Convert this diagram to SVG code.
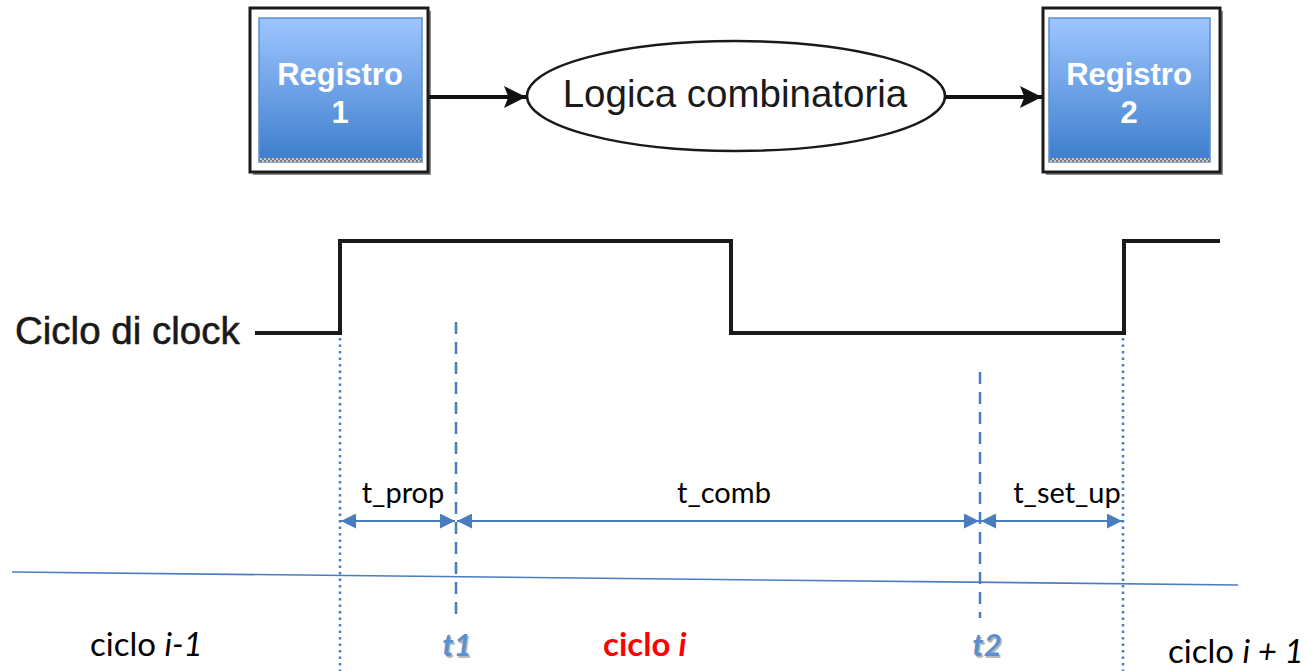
<svg xmlns="http://www.w3.org/2000/svg" width="1311" height="671" viewBox="0 0 1311 671">
  <style>
    .frame { fill: #ffffff; stroke: #1c1c1c; stroke-width: 3; }
    .shadow { fill: #8a8a8a; }
    .reg { fill: url(#regFill); stroke: #5b8fd0; stroke-width: 1.5; }
    .regText { font-family: "Liberation Sans", Arial, sans-serif; font-weight: bold; font-size: 31px; fill: #ffffff; text-anchor: middle; }
    .wire { stroke: #111111; stroke-width: 4; fill: none; }
    .clock { stroke: #1a1a1a; stroke-width: 4; fill: none; stroke-linejoin: miter; }
    .dotted { stroke: #4a7cc0; stroke-width: 2.5; stroke-dasharray: 2.5 4; fill: none; }
    .dashed { stroke: #4a7cc0; stroke-width: 2.5; stroke-dasharray: 12 8; fill: none; }
    .dim { stroke: #4a7cc0; stroke-width: 2; fill: none; }
    .lbl { font-family: Lato, "Open Sans", sans-serif; font-size: 29px; fill: #000000; text-anchor: middle; }
    .cyc { font-family: Lato, "Open Sans", sans-serif; font-size: 33px; fill: #000000; }
    .tmark { font-family: Lato, "Open Sans", sans-serif; font-size: 31px; font-weight: bold; font-style: italic; text-anchor: middle; }
  </style>
  <defs>
    <linearGradient id="regFill" x1="0" y1="0" x2="0" y2="1">
      <stop offset="0" stop-color="#9ec6ff"/>
      <stop offset="1" stop-color="#3d7dcc"/>
    </linearGradient>
    <pattern id="grain" width="4" height="4" patternUnits="userSpaceOnUse">
      <rect width="4" height="4" fill="#c8c8c8"/>
      <rect width="2" height="2" fill="#7a7a7a"/>
      <rect x="2" y="2" width="2" height="2" fill="#7a7a7a"/>
    </pattern>
    <marker id="blackHead" viewBox="0 0 10 10" refX="10" refY="5" markerWidth="8" markerHeight="5.5" markerUnits="strokeWidth" orient="auto">
      <path d="M0,0 L10,5 L0,10 L2,5 z" fill="#111111"/>
    </marker>
    <marker id="blueHead" viewBox="0 0 10 10" refX="10" refY="5" markerWidth="8" markerHeight="7.5" markerUnits="strokeWidth" orient="auto-start-reverse">
      <path d="M0,0 L10,5 L0,10 z" fill="#4a7cc0"/>
    </marker>
  </defs>

  <!-- register 1 -->
  <g id="registro1">
    <rect class="shadow" x="253" y="11" width="178" height="164"/>
    <rect class="frame" x="250" y="8" width="178" height="164"/>
    <rect class="reg" x="259" y="18" width="163" height="144"/>
    <rect x="260" y="158" width="161" height="4" fill="url(#grain)"/>
    <text class="regText" x="340" y="85">Registro</text>
    <text class="regText" x="340" y="123">1</text>
  </g>

  <!-- combinational logic -->
  <g id="logica">
    <ellipse cx="736" cy="96" rx="209" ry="55" fill="#ffffff" stroke="#1a1a1a" stroke-width="2.5"/>
    <text x="735" y="107" font-family="Liberation Sans, Arial, sans-serif" font-size="38.5" fill="#1a1a1a" text-anchor="middle">Logica combinatoria</text>
  </g>

  <!-- register 2 -->
  <g id="registro2">
    <path d="M1206,36 a5,9 0 0 1 0,18" fill="none" stroke="#1a1a1a" stroke-width="3"/>
    <rect class="shadow" x="1046" y="11" width="177" height="164"/>
    <rect class="frame" x="1043" y="8" width="177" height="164"/>
    <rect class="reg" x="1049" y="18" width="161" height="144"/>
    <rect x="1050" y="158" width="159" height="4" fill="url(#grain)"/>
    <text class="regText" x="1129" y="85">Registro</text>
    <text class="regText" x="1129" y="123">2</text>
  </g>

  <!-- data path connectors -->
  <g id="connectors">
    <line class="wire" x1="429" y1="97" x2="526" y2="97" marker-end="url(#blackHead)"/>
    <line class="wire" x1="945" y1="97" x2="1042" y2="97" marker-end="url(#blackHead)"/>
  </g>

  <!-- clock waveform -->
  <g id="clock">
    <text x="15" y="344" font-family="Liberation Sans, Arial, sans-serif" font-size="38.5" fill="#1a1a1a" stroke="#1a1a1a" stroke-width="0.6">Ciclo di clock</text>
    <polyline class="clock" points="255,333 340,333 340,241 731,241 731,333 1124,333 1124,241 1220,241"/>
  </g>

  <!-- time markers -->
  <g id="markers">
    <line class="dotted" x1="340" y1="338" x2="340" y2="671"/>
    <line class="dotted" x1="1123" y1="338" x2="1123" y2="671"/>
    <line class="dashed" x1="456" y1="322" x2="456" y2="618"/>
    <line class="dashed" x1="980" y1="372" x2="980" y2="618"/>
  </g>

  <!-- interval dimensions -->
  <g id="intervals">
    <line class="dim" x1="341" y1="521" x2="455" y2="521" marker-start="url(#blueHead)" marker-end="url(#blueHead)"/>
    <line class="dim" x1="457" y1="521" x2="979" y2="521" marker-start="url(#blueHead)" marker-end="url(#blueHead)"/>
    <line class="dim" x1="981" y1="521" x2="1122" y2="521" marker-start="url(#blueHead)" marker-end="url(#blueHead)"/>
    <text class="lbl" x="403" y="503">t_prop</text>
    <text class="lbl" x="724" y="503">t_comb</text>
    <text class="lbl" x="1067" y="503">t_set_up</text>
  </g>

  <!-- cycle boundary line -->
  <g id="baseline">
    <line x1="12" y1="572" x2="1238" y2="585" stroke="#4a7cc0" stroke-width="1.6"/>
  </g>

  <!-- cycle labels -->
  <g id="cycles">
    <text class="cyc" x="90" y="656">ciclo <tspan font-style="italic">i-1</tspan></text>
    <text class="cyc" x="603" y="656" font-weight="bold" style="fill:#ff0000">ciclo <tspan font-style="italic">i</tspan></text>
    <text class="cyc" x="1168" y="663" font-size="32">ciclo <tspan font-style="italic">i + 1</tspan></text>
    <text class="tmark" x="458.5" y="657.5" fill="#b8b8b8">t1</text>
    <text class="tmark" x="457" y="656" fill="#5b8fd0">t1</text>
    <text class="tmark" x="988.5" y="657.5" fill="#b8b8b8">t2</text>
    <text class="tmark" x="987" y="656" fill="#5b8fd0">t2</text>
  </g>
</svg>
